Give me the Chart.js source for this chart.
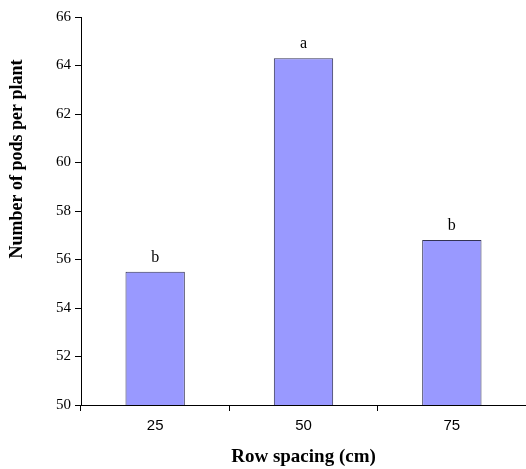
<!DOCTYPE html>
<html>
<head>
<meta charset="utf-8">
<script src="https://cdn.jsdelivr.net/npm/chart.js@4"></script>
<style>
  html, body { margin: 0; padding: 0; background: #fff; }
  #wrap { width: 526px; height: 469px; }
</style>
</head>
<body>
<div id="wrap"><canvas id="barChart" width="526" height="469"></canvas></div>
<script>
// data
const categories = ['25', '50', '75'];
const podsPerPlant = [55.5, 64.3, 56.8];
const groupLetters = ['b', 'a', 'b'];
const yTicks = [50, 52, 54, 56, 58, 60, 62, 64, 66];
const yTitle = 'Number of pods per plant';

const serif = '"Liberation Serif", "Times New Roman", serif';
const sans = '"Liberation Sans", Arial, sans-serif';

// letters above each bar, and the y title (sits higher than the plot centre)
const letterPlugin = {
    id: 'letters',
    afterDatasetsDraw(chart) {
        const ctx = chart.ctx;
        const meta = chart.getDatasetMeta(0);
        ctx.save();
        ctx.fillStyle = '#000';
        ctx.font = '16px ' + serif;
        ctx.textAlign = 'center';
        ctx.textBaseline = 'alphabetic';
        meta.data.forEach(function(bar, i) {
            ctx.fillText(groupLetters[i], bar.x, bar.y - 10);
        });
        ctx.restore();

        ctx.save();
        ctx.translate(17, 159);
        ctx.rotate(-Math.PI / 2);
        ctx.font = 'bold 18px ' + serif;
        ctx.fillStyle = '#000';
        ctx.textAlign = 'center';
        ctx.textBaseline = 'middle';
        ctx.fillText(yTitle, 0, 0);
        ctx.restore();
    }
};

const ctx = document.getElementById('barChart').getContext('2d');

const barChart = new Chart(ctx, {
    type: 'bar',
    data: {
        labels: categories,
        datasets: [{
            data: podsPerPlant,
            backgroundColor: '#9999ff',
            borderColor: '#333355',
            borderWidth: 1,
            borderSkipped: 'bottom',
            barPercentage: 0.4,
            categoryPercentage: 1.0
        }]
    },
    options: {
        responsive: false,
        animation: false,
        layout: {
            padding: { top: 17, right: 0, left: 4, bottom: 1 }
        },
        plugins: {
            legend: { display: false },
            tooltip: { enabled: false }
        },
        scales: {
            x: {
                grid: {
                    offset: true,
                    drawOnChartArea: false,
                    drawTicks: true,
                    tickLength: 6,
                    color: '#000'
                },
                border: { color: '#000', width: 1 },
                ticks: {
                    color: '#000',
                    font: { family: sans, size: 15 },
                    padding: 6
                },
                title: {
                    display: true,
                    text: 'Row spacing (cm)',
                    color: '#000',
                    font: { family: serif, size: 19, weight: 'bold' },
                    padding: { top: 4, bottom: 0 }
                },
                afterFit: function(scale) { scale.height = 63; }
            },
            y: {
                min: 50,
                max: 66,
                afterBuildTicks: function(scale) {
                    scale.ticks = yTicks.map(function(v) { return { value: v }; });
                },
                grid: {
                    drawOnChartArea: false,
                    drawTicks: true,
                    tickLength: 6,
                    color: '#000'
                },
                border: { color: '#000', width: 1 },
                ticks: {
                    color: '#000',
                    font: { family: serif, size: 15 },
                    padding: 4
                },
                title: { display: false },
                afterFit: function(scale) { scale.width = 77; }
            }
        }
    },
    plugins: [letterPlugin]
});
</script>
</body>
</html>
